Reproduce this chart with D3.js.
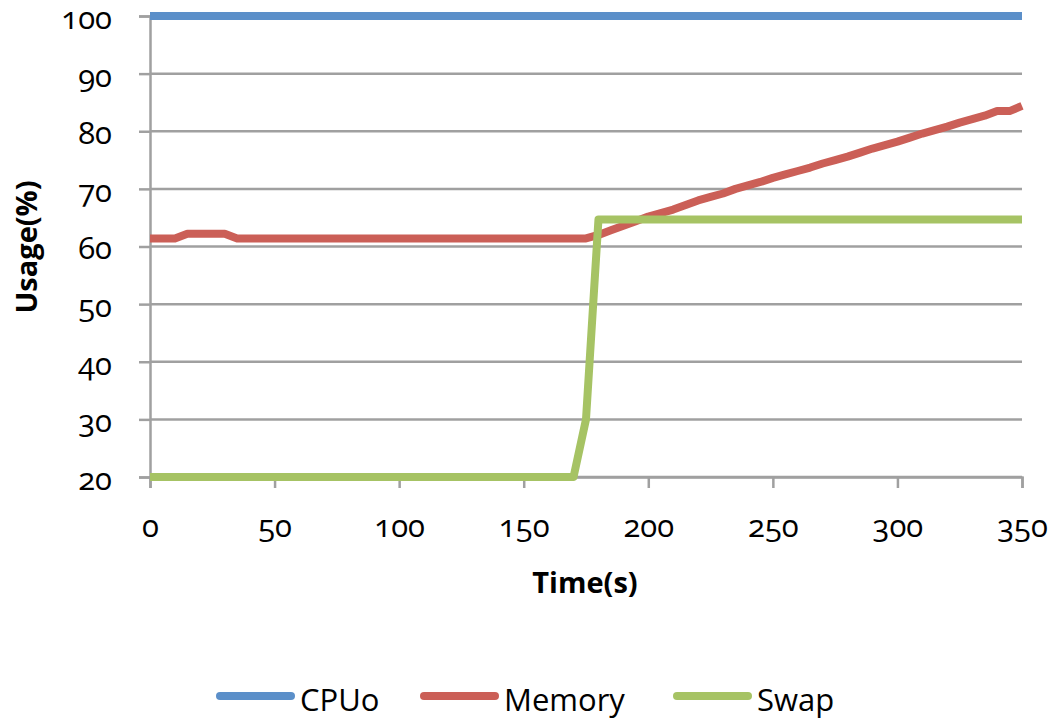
<!DOCTYPE html>
<html>
<head>
<meta charset="utf-8">
<script src="https://cdn.jsdelivr.net/npm/d3@7"></script>
<style>
  html, body { margin: 0; padding: 0; background: #fff; }
  svg { display: block; }
  .tick-label { font-family: "Open Sans", sans-serif; font-variant-numeric: oldstyle-nums; font-feature-settings: "onum" 1; font-size: 31px; fill: #000; }
  .axis-title { font-family: "Open Sans", sans-serif; font-weight: bold; font-size: 29px; fill: #000; }
  .legend-text { font-family: "Open Sans", sans-serif; font-size: 31px; fill: #000; }
</style>
</head>
<body>
<svg id="chart" width="1056" height="722"></svg>
<script>
// Sample times (s), one reading every 5 seconds
const times = d3.range(0, 355, 5);

// CPU usage stays pegged at 100%
const cpuValues = times.map(() => 100);

// Memory usage (%)
const memoryValues = [
  61.4, 61.4, 61.4, 62.2, 62.2, 62.2, 62.2, 61.4, 61.4, 61.4, // 0-45
  61.4, 61.4, 61.4, 61.4, 61.4, 61.4, 61.4, 61.4, 61.4, 61.4, // 50-95
  61.4, 61.4, 61.4, 61.4, 61.4, 61.4, 61.4, 61.4, 61.4, 61.4, // 100-145
  61.4, 61.4, 61.4, 61.4, 61.4, 61.4,                         // 150-175
  62.0, 62.8, 63.6, 64.4, 65.2, 65.8, 66.4, 67.2, 68.0, 68.6, // 180-225
  69.2, 70.0, 70.6, 71.2, 71.9, 72.5, 73.1, 73.7, 74.4, 75.0, // 230-275
  75.6, 76.3, 77.0, 77.6, 78.2, 78.9, 79.6, 80.2, 80.8, 81.5, // 280-325
  82.1, 82.7, 83.5, 83.5, 84.4                                // 330-350
];

// Swap usage (%)
const swapValues = [
  20, 20, 20, 20, 20, 20, 20, 20, 20, 20, // 0-45
  20, 20, 20, 20, 20, 20, 20, 20, 20, 20, // 50-95
  20, 20, 20, 20, 20, 20, 20, 20, 20, 20, // 100-145
  20, 20, 20, 20, 20, 30,                 // 150-175
  64.7, 64.7, 64.7, 64.7, 64.7, 64.7, 64.7, 64.7, 64.7, 64.7, // 180-225
  64.7, 64.7, 64.7, 64.7, 64.7, 64.7, 64.7, 64.7, 64.7, 64.7, // 230-275
  64.7, 64.7, 64.7, 64.7, 64.7, 64.7, 64.7, 64.7, 64.7, 64.7, // 280-325
  64.7, 64.7, 64.7, 64.7, 64.7                                 // 330-350
];

const seriesNames = ["CPUo", "Memory", "Swap"];
const seriesColors = ["#5B8FC9", "#CB5F57", "#A6C364"];
const xTicks = [0, 50, 100, 150, 200, 250, 300, 350];
const yTicks = [20, 30, 40, 50, 60, 70, 80, 90, 100];

const svg = d3.select("#chart");
const plot = { left: 150, right: 1022, top: 16, bottom: 477 };

const x = d3.scaleLinear().domain([0, 350]).range([plot.left, plot.right]);
const y = d3.scaleLinear().domain([20, 100]).range([plot.bottom, plot.top]);

const gridColor = "#A0A0A0";

// Horizontal gridlines
svg.append("g")
  .selectAll("line")
  .data(yTicks)
  .join("line")
  .attr("x1", plot.left).attr("x2", plot.right)
  .attr("y1", d => y(d)).attr("y2", d => y(d))
  .attr("stroke", gridColor).attr("stroke-width", 2.5);

// Y axis
const yAxis = svg.append("g")
  .attr("transform", `translate(${plot.left},0)`)
  .call(d3.axisLeft(y).tickValues(yTicks).tickSize(11).tickPadding(27).tickFormat(d3.format("d")));
yAxis.select(".domain").attr("stroke", gridColor).attr("stroke-width", 2.5);
yAxis.selectAll(".tick line").attr("stroke", gridColor).attr("stroke-width", 2.5);
yAxis.selectAll(".tick text").attr("class", "tick-label").attr("dy", "0.4em");
yAxis.attr("font-family", null).attr("font-size", null);

// X axis
const xAxis = svg.append("g")
  .attr("transform", `translate(0,${plot.bottom})`)
  .call(d3.axisBottom(x).tickValues(xTicks).tickSize(11).tickPadding(32).tickFormat(d3.format("d")));
xAxis.select(".domain").attr("stroke", gridColor).attr("stroke-width", 2.5);
xAxis.selectAll(".tick line").attr("stroke", gridColor).attr("stroke-width", 2.5);
xAxis.selectAll(".tick text").attr("class", "tick-label").attr("y", 60).attr("dy", "0");
xAxis.attr("font-family", null).attr("font-size", null);

// Axis titles
svg.append("text").attr("class", "axis-title")
  .attr("x", 585).attr("y", 593).attr("text-anchor", "middle").text("Time(s)");
svg.append("text").attr("class", "axis-title")
  .attr("transform", "translate(37,247) rotate(-90)")
  .attr("text-anchor", "middle").text("Usage(%)");

// Series lines
const seriesData = [cpuValues, memoryValues, swapValues];
const line = d3.line().x((d, i) => x(times[i])).y(d => y(d));

svg.append("g")
  .selectAll("path")
  .data(seriesData)
  .join("path")
  .attr("d", line)
  .attr("fill", "none")
  .attr("stroke", (d, i) => seriesColors[i])
  .attr("stroke-width", 8)
  .attr("stroke-linejoin", "round");

// Legend
const legendX = [220, 424, 677];
const legend = svg.append("g").selectAll("g")
  .data(seriesNames)
  .join("g")
  .attr("transform", (d, i) => `translate(${legendX[i]},696)`);
legend.append("line")
  .attr("x1", 0).attr("x2", 71).attr("y1", 0).attr("y2", 0)
  .attr("stroke", (d, i) => seriesColors[i])
  .attr("stroke-width", 8).attr("stroke-linecap", "round");
legend.append("text").attr("class", "legend-text")
  .attr("x", 80).attr("y", 15).text(d => d);
</script>
</body>
</html>
